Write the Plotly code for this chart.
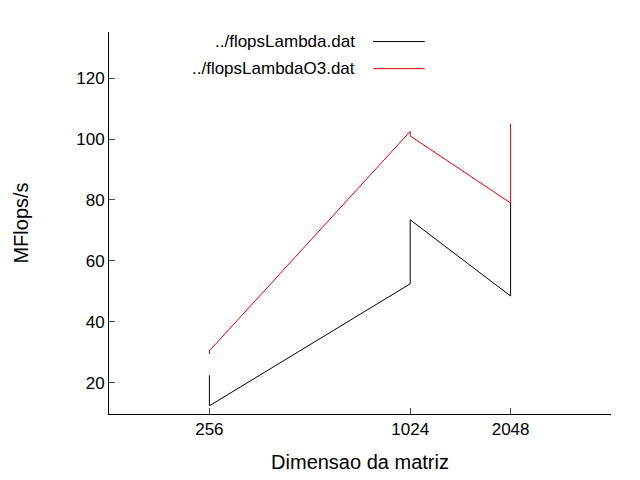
import plotly.graph_objects as go

sizes_a = [256, 256, 1024, 1024, 2048, 2048]
mflops_a = [22.5, 12.5, 52.5, 73.5, 48.5, 79.5]
sizes_b = [256, 256, 1024, 1024, 2048, 2048]
mflops_b = [29.5, 30.5, 102.5, 101.0, 79.0, 105.0]
names = ["../flopsLambda.dat", "../flopsLambdaO3.dat"]
colors = ["black", "#e00000"]

fig = go.Figure()
for xs, ys, n, c in [(sizes_a, mflops_a, names[0], colors[0]),
                     (sizes_b, mflops_b, names[1], colors[1])]:
    fig.add_trace(go.Scatter(x=xs, y=ys, mode="lines", name=n,
                             line=dict(color=c, width=1)))

# gnuplot-style legend: text right-aligned, sample line to the right
for i, (n, c) in enumerate(zip(names, colors)):
    yp = 0.975 - i * 0.071
    fig.add_annotation(x=0.495, y=yp, xref="paper", yref="paper", text=n,
                       showarrow=False, xanchor="right", yanchor="middle",
                       font=dict(size=17, color="black"))
    fig.add_shape(type="line", xref="paper", yref="paper",
                  x0=0.526, x1=0.629, y0=yp, y1=yp, line=dict(color=c, width=1))

fig.update_layout(
    width=640, height=480, showlegend=False,
    plot_bgcolor="white", paper_bgcolor="white",
    margin=dict(l=101, r=37, t=24, b=74),
    font=dict(family="Liberation Sans, DejaVu Sans", size=17, color="black"),
    xaxis=dict(type="log", range=[2.10721, 3.61236], automargin=False,
               tickvals=[256, 1024, 2048], ticktext=["256", "1024", "2048"],
               ticks="inside", ticklen=6, showgrid=False, zeroline=False,
               showline=True, linecolor="black", linewidth=1,
               title=dict(text="Dimensao da matriz", standoff=16)),
    yaxis=dict(range=[9.8, 135.1], tickvals=[20, 40, 60, 80, 100, 120],
               automargin=False,
               ticks="inside", ticklen=6, showgrid=False, zeroline=False,
               showline=True, linecolor="black", linewidth=1,
               title=dict(text="MFlops/s", standoff=42)),
)

fig.write_html("out.html")
